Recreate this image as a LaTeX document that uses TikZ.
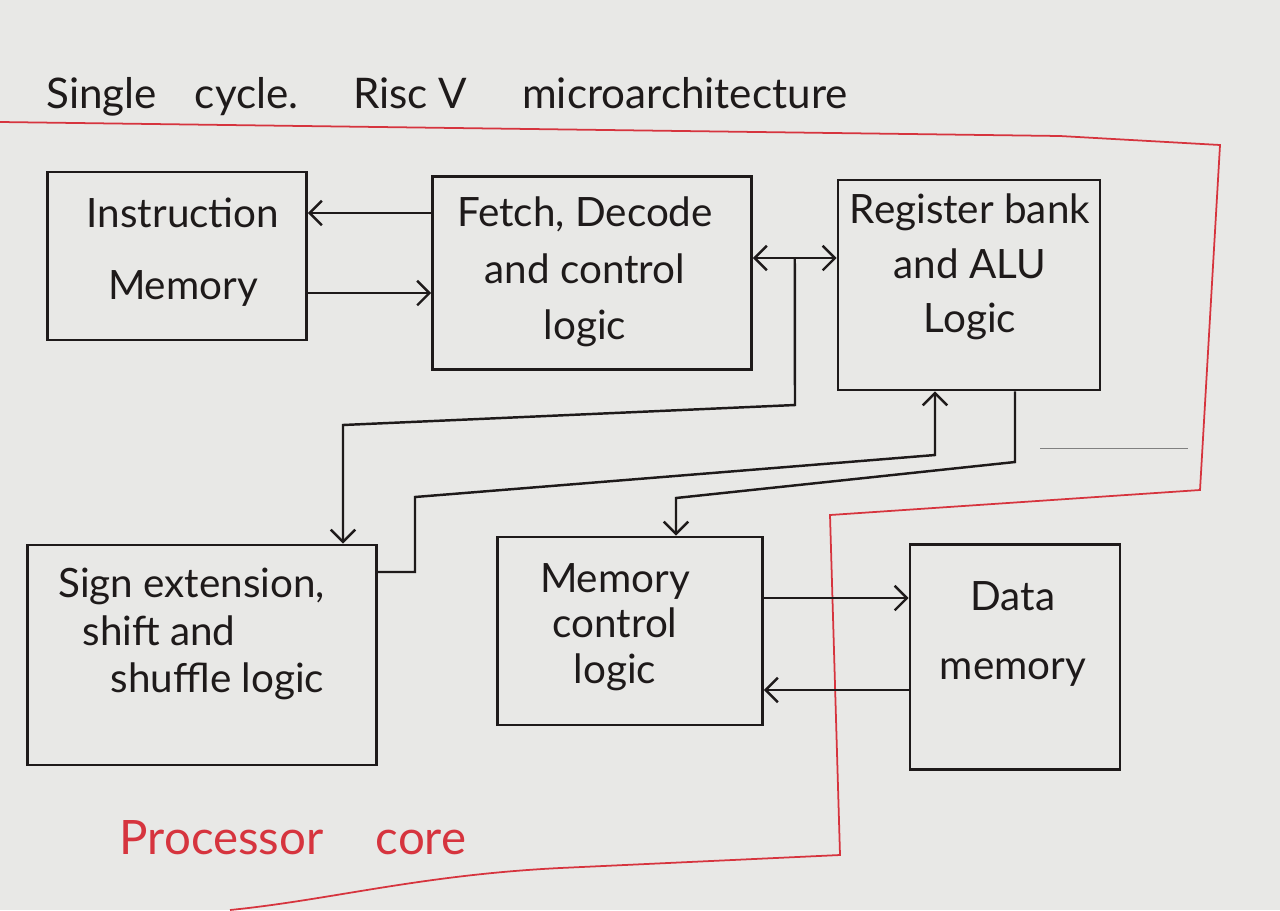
\documentclass[tikz,border=0pt]{standalone}
\usepackage{fontspec}
\setmainfont{Lato}
\usetikzlibrary{arrows.meta}

\definecolor{paper}{RGB}{232,232,230}
\definecolor{pen}{RGB}{30,26,26}
\definecolor{redpen}{RGB}{214,52,62}

\begin{document}
\begin{tikzpicture}[
        x=0.02cm, y=-0.02cm,
        block/.style={draw=pen, line width=1.5pt, inner sep=0pt},
        txt/.style={align=center, inner sep=0pt, font=\fontsize{23}{#1}\selectfont},
        txt/.default=32,
        link/.style={draw=pen, line width=1.4pt, ->, >={Straight Barb[length=7pt, width=14pt]}},
        core/.style={draw=redpen, line width=1pt},
        every node/.style={color=pen}
    ]
    \useasboundingbox[fill=paper] (0,0) rectangle (1280,910);

    \node (title) at (447,97) [font=\fontsize{24}{28}\selectfont]
        {Single\hspace{0.9em}cycle.\hspace{1.3em}Risc V\hspace{1.3em}microarchitecture};

    % processor core boundary
    \draw[core] (0,122) -- (1060,136) -- (1220,145) -- (1200,490) -- (830,515)
        -- (840,855) -- (560,868) .. controls (420,875) and (330,900) .. (230,910);
    \node (corelabel) at (293,838) [font=\fontsize{27}{30}\selectfont, text=redpen]
        {Processor\hspace{1.1em}core};

    % blocks
    \node[block, minimum width=5.18cm, minimum height=3.36cm] (im) at (177,256) {};
    \node[block, minimum width=6.38cm, minimum height=3.86cm] (fetch) at (592,273) {};
    \node[block, minimum width=5.24cm, minimum height=4.2cm] (rb) at (969,285) {};
    \node[block, minimum width=6.98cm, minimum height=4.4cm] (se) at (202,655) {};
    \node[block, minimum width=5.3cm, minimum height=3.76cm] (mc) at (630,631) {};
    \node[block, minimum width=4.2cm, minimum height=4.5cm] (dm) at (1015,657) {};

    \node[txt=41] (imtext) at (183,252) {Instruction\\Memory};
    \node[txt=32] (fetchtext) at (585,272) {Fetch, Decode\\and control\\logic};
    \node[txt=31] (rbtext) at (970,267) {Register bank\\and ALU\\Logic};
    \node[txt=27, align=left, anchor=west] (setext) at (58,634)
        {Sign extension,\\\hspace{0.6em}shift and\\\hspace{1.3em}shuffle logic};
    \node[txt=26] (mctext) at (615,627) {Memory\\control\\logic};
    \node[txt=39] (dmtext) at (1013,634) {Data\\memory};

    % fetch <-> instruction memory
    \draw[link] (fetch.west |- 0,213) -- (im.east |- 0,213);
    \draw[link] (im.east |- 0,293) -- (fetch.west |- 0,293);

    % fetch <-> register bank, with branch down to sign extension
    \draw[link, <->] (fetch.east |- 0,258) -- (rb.west |- 0,258) coordinate[pos=0.5] (tap);
    \draw[link] (tap) -- (795,405) -- (343,425) -- (se.north -| 343,0);

    \draw[link] (se.east |- 0,572) -- (415,572) -- (415,497) -- (935,455) -- (rb.south -| 935,0);
    \draw[link] (rb.south -| 1015,0) -- (1015,462) -- (676,498) -- (mc.north -| 676,0);

    % memory control <-> data memory
    \draw[link] (mc.east |- 0,598) -- (dm.west |- 0,598);
    \draw[link] (dm.west |- 0,690) -- (mc.east |- 0,690);

    \draw[gray, line width=0.5pt] (1040,448) -- (1188,448);

\end{tikzpicture}
\end{document}
